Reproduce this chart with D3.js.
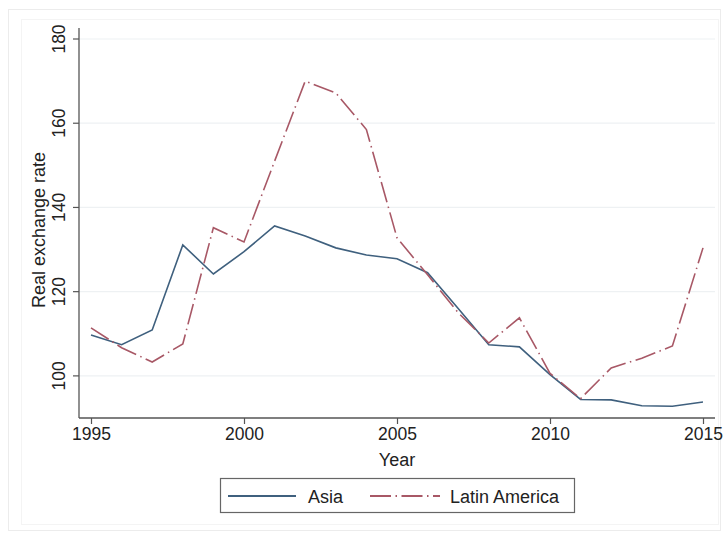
<!DOCTYPE html>
<html>
<head>
<meta charset="utf-8">
<script src="https://cdn.jsdelivr.net/npm/d3@7"></script>
<style>
  html, body { margin: 0; padding: 0; background: #ffffff; }
  svg text { font-family: "Liberation Sans", Arial, Helvetica, sans-serif; fill: #222; }
</style>
</head>
<body>
<svg id="chart" width="724" height="533"></svg>
<script>
const years = [1995,1996,1997,1998,1999,2000,2001,2002,2003,2004,2005,2006,2007,2008,2009,2010,2011,2012,2013,2014,2015];
const asia = [109.7,107.4,110.9,131.1,124.2,129.5,135.6,133.2,130.4,128.7,127.8,124.5,116.0,107.4,106.9,100.3,94.4,94.3,92.9,92.8,93.8];
const latinAmerica = [111.4,106.7,103.3,107.6,135.2,131.8,151.0,170.0,167.2,158.5,132.8,124.0,115.0,107.8,113.8,100.6,94.6,101.9,104.2,107.1,130.4];
const xTicks = [1995, 2000, 2005, 2010, 2015];
const yTicks = [100, 120, 140, 160, 180];
const seriesNames = ["Asia", "Latin America"];

const svg = d3.select("#chart");

// outer frames
svg.append("rect").attr("x", 8.5).attr("y", 9.5).attr("width", 712).attr("height", 521)
  .attr("fill", "none").attr("stroke", "#ececec");
svg.append("rect").attr("x", 21.5).attr("y", 19.5).attr("width", 697).attr("height", 505)
  .attr("fill", "none").attr("stroke", "#f4f4f4");

const x = d3.scaleLinear().domain([1995, 2015]).range([91, 703]);
const y = d3.scaleLinear().domain([90, 180]).range([418, 39]);
const axisLeftX = 79, axisRightX = 715, axisTopY = 28, axisBottomY = 418;

// gridlines
svg.append("g").selectAll("line").data(yTicks).join("line")
  .attr("x1", axisLeftX).attr("x2", axisRightX)
  .attr("y1", d => y(d)).attr("y2", d => y(d))
  .attr("stroke", "#eef1f3").attr("stroke-width", 1.2);

// y axis
const yAxis = d3.axisLeft(y).tickValues(yTicks).tickSize(5).tickPadding(0).tickFormat(d3.format("d"));
const gy = svg.append("g").attr("transform", `translate(${axisLeftX},0)`).call(yAxis);
gy.select(".domain").remove();
gy.selectAll(".tick line").attr("stroke", "#555").attr("stroke-width", 1.2);
gy.selectAll(".tick text")
  .attr("font-size", 17.5)
  .attr("fill", "#222")
  .attr("text-anchor", "middle")
  .attr("transform", "rotate(-90)")
  .attr("x", d => -y(d))
  .attr("y", -14)
  .attr("dy", 0);
gy.selectAll(".tick").attr("transform", null);
gy.selectAll(".tick line").attr("y1", d => y(d)).attr("y2", d => y(d)).attr("x1", 0).attr("x2", -6);
svg.append("line").attr("x1", axisLeftX).attr("x2", axisLeftX).attr("y1", axisTopY).attr("y2", axisBottomY)
  .attr("stroke", "#555").attr("stroke-width", 1.3);

// x axis
const xAxis = d3.axisBottom(x).tickValues(xTicks).tickSize(6).tickPadding(4).tickFormat(d3.format("d"));
const gx = svg.append("g").attr("transform", `translate(0,${axisBottomY})`).call(xAxis);
gx.select(".domain").remove();
gx.selectAll(".tick line").attr("stroke", "#555").attr("stroke-width", 1.2);
gx.selectAll(".tick text").attr("font-size", 17.5).attr("fill", "#222").attr("dy", "0.71em");
svg.append("line").attr("x1", axisLeftX).attr("x2", axisRightX).attr("y1", axisBottomY).attr("y2", axisBottomY)
  .attr("stroke", "#555").attr("stroke-width", 1.3);

// axis titles
svg.append("text").attr("x", x(2005)).attr("y", 466).attr("text-anchor", "middle")
  .attr("font-size", 18).text("Year");
svg.append("text").attr("transform", `translate(45, ${(axisTopY + axisBottomY) / 2 + 7}) rotate(-90)`)
  .attr("text-anchor", "middle").attr("font-size", 18).text("Real exchange rate");

// lines
const colors = ["#3f607e", "#a85866"];
const dashes = [null, "21,4.5,1.5,4.5"];
const seriesData = [asia, latinAmerica];
const line = d3.line().x(d => x(d[0])).y(d => y(d[1]));
seriesData.forEach((vals, i) => {
  svg.append("path")
    .datum(years.map((yr, j) => [yr, vals[j]]))
    .attr("d", line)
    .attr("fill", "none")
    .attr("stroke", colors[i])
    .attr("stroke-width", 1.6)
    .attr("stroke-linejoin", "miter")
    .attr("stroke-dasharray", dashes[i]);
});

// legend
const lg = svg.append("g");
lg.append("rect").attr("x", 220.5).attr("y", 478.5).attr("width", 354).attr("height", 34)
  .attr("fill", "#fff").attr("stroke", "#666").attr("stroke-width", 1.2);
const legendItems = [
  {x1: 228, x2: 296, tx: 308},
  {x1: 370, x2: 440, tx: 450}
];
legendItems.forEach((it, i) => {
  lg.append("line").attr("x1", it.x1).attr("x2", it.x2).attr("y1", 496).attr("y2", 496)
    .attr("stroke", colors[i]).attr("stroke-width", 1.8).attr("stroke-dasharray", dashes[i]);
  lg.append("text").attr("x", it.tx).attr("y", 502.5).attr("font-size", 18).text(seriesNames[i]);
});
</script>
</body>
</html>
